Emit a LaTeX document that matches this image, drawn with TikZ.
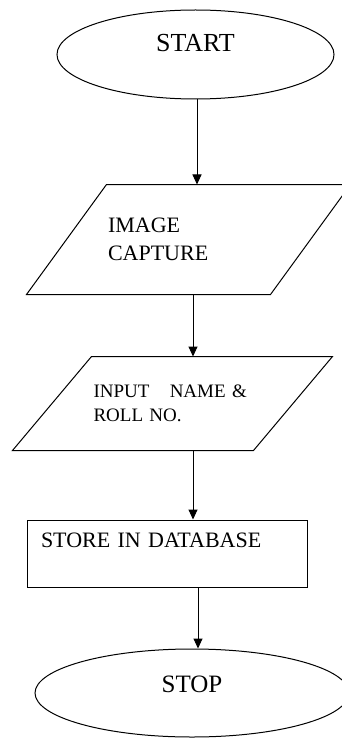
\documentclass[tikz,border=0pt]{standalone}
\usepackage{fontspec}
\setmainfont{Liberation Serif}
\usetikzlibrary{shapes.geometric,arrows.meta}
\begin{document}
\begin{tikzpicture}[x=1pt,y=-1pt,line width=1pt,
  term/.style={ellipse,draw,inner sep=0pt},
  boxframe/.style={rectangle,inner sep=0pt,align=left},
  proc/.style={rectangle,draw,inner sep=0pt,align=left},
  arr/.style={-{Triangle[length=10pt,width=9pt]}}]
\useasboundingbox (0,0) rectangle (342,738);
% START
\node[term,minimum width=277pt,minimum height=89pt,text height=18pt,text depth=23pt,
  font=\fontsize{26}{30}\selectfont] (start) at (195.5,54.5) {START};
% IMAGE CAPTURE
\node[boxframe,minimum width=323pt,minimum height=109pt,text width=161pt,
  font=\fontsize{22}{28}\selectfont] (p1) at (188.5,239.5) {IMAGE\\CAPTURE};
\draw (p1.south west) -- ([xshift=-80pt]p1.south east) -- (p1.north east)
  -- ([xshift=80pt]p1.north west) -- cycle;
% INPUT NAME
\node[boxframe,minimum width=319pt,minimum height=93pt,text width=158pt,
  font=\fontsize{19}{24}\selectfont] (p2) at (172.5,403.5) {INPUT\hspace{14pt} NAME \&\\ROLL NO.};
\draw (p2.south west) -- ([xshift=-79pt]p2.south east) -- (p2.north east)
  -- ([xshift=79pt]p2.north west) -- cycle;
% STORE
\node[proc,minimum width=280pt,minimum height=67pt,text width=252pt,text height=15pt,text depth=28pt,
  font=\fontsize{22}{26}\selectfont] (db) at (167,553.5) {STORE IN DATABASE};
% STOP
\node[term,minimum width=314pt,minimum height=88pt,text height=18pt,text depth=20pt,
  font=\fontsize{25}{30}\selectfont] (stop) at (192,693) {STOP};
% connectors
\draw[arr] ([xshift=1.5pt]start.south) -- ([xshift=1.5pt]start.south |- p1.north);
\draw[arr] ([xshift=4.5pt]p1.south) -- ([xshift=4.5pt]p1.south |- p2.north);
\draw[arr] ([xshift=20.5pt]p2.south) -- ([xshift=20.5pt]p2.south |- db.north);
\draw[arr] ([xshift=31pt]db.south) -- ([xshift=31pt]db.south |- stop.north);
\end{tikzpicture}
\end{document}
